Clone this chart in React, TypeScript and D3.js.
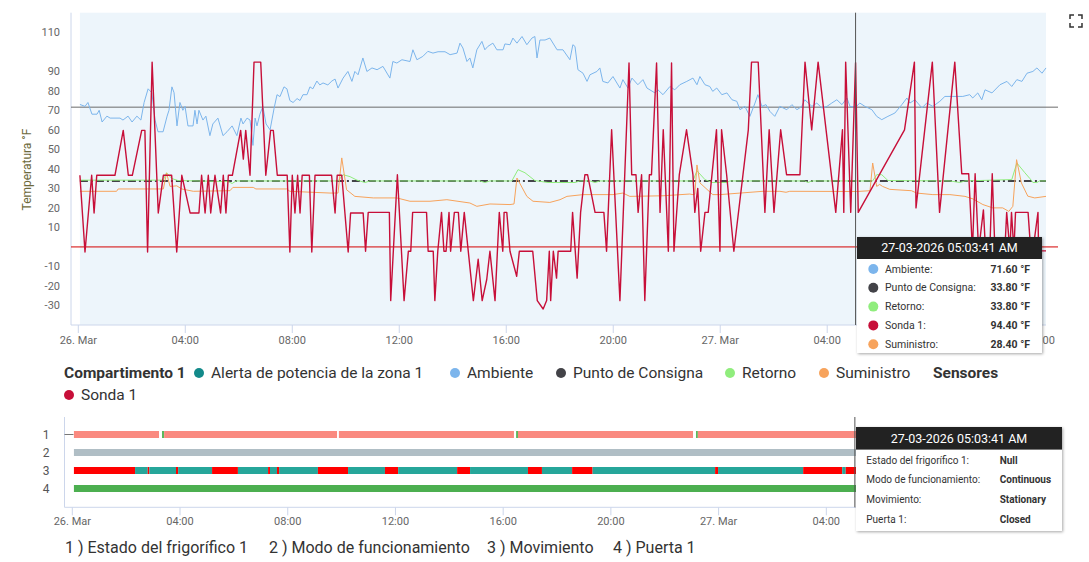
import * as d3 from 'd3';

// hours after 26 Mar 2026 00:00, value in °F
const ambiente: [number, number][] = [
  [0.06,73],[0.25,72],[0.36,74],[0.51,68],[0.70,68],[0.78,70],[0.89,64],[1.07,67],[1.19,66],[1.56,66],[1.67,65],[1.86,67],[2.01,64],[2.19,67],[2.34,65],[2.46,74],[2.61,81],[2.75,79],[2.87,65],[2.98,59],[3.17,59],[3.32,67],[3.39,70],[3.50,82],[3.58,79],[3.69,62],[3.80,74],[3.91,70],[3.99,72],[4.10,62],[4.29,62],[4.36,70],[4.44,63],[4.51,70],[4.66,65],[4.77,67],[4.92,57],[5.03,63],[5.22,66],[5.41,57],[5.56,59],[5.75,62],[5.93,57],[6.08,66],[6.16,63],[6.31,66],[6.42,65],[6.53,52],[6.61,66],[6.68,62],[6.79,68],[6.90,72],[7.02,63],[7.17,60],[7.32,71],[7.43,78],[7.54,77],[7.69,82],[7.80,81],[7.91,75],[8.03,74],[8.18,76],[8.29,75],[8.40,78],[8.55,78],[8.66,82],[8.77,81],[8.92,85],[9.03,83],[9.15,84],[9.33,83],[9.48,85],[9.60,86],[9.71,81.4],[9.90,86.5],[10.08,89.9],[10.23,84.8],[10.34,89.9],[10.46,88.2],[10.64,96.8],[10.79,89.9],[10.98,91.7],[11.17,90.8],[11.39,92.5],[11.65,86.5],[11.76,95],[11.91,94.2],[12.10,95.9],[12.40,95],[12.51,101],[12.66,95.9],[12.88,97.6],[13.07,100.2],[13.26,99.3],[13.45,100],[13.71,100],[13.90,98.5],[14.16,99.3],[14.27,104.4],[14.38,101.9],[14.53,95],[14.64,96.8],[14.75,91.7],[14.90,101],[15.09,105.3],[15.20,101],[15.31,102.7],[15.50,104.4],[15.65,101],[15.88,101],[15.95,104],[16.14,103.6],[16.25,107],[16.40,104.4],[16.59,107.8],[16.77,103.6],[16.96,107],[17.07,107.8],[17.15,96.8],[17.26,106],[17.45,106],[17.63,107],[17.90,101],[18.12,101],[18.38,95.9],[18.49,103.6],[18.57,102.7],[18.68,90.8],[18.87,89],[19.02,84.8],[19.13,88.2],[19.39,89.9],[19.50,91.7],[19.61,84.8],[19.80,84],[19.99,87.3],[20.25,81.4],[20.36,85.7],[20.55,81.4],[20.70,86.5],[20.92,83.1],[21.11,85.7],[21.26,81.4],[21.56,78.9],[21.67,80.5],[21.86,78],[22.12,82.2],[22.30,80.5],[22.49,83.1],[22.75,84.8],[22.98,86.5],[23.13,83.1],[23.24,87.3],[23.43,83.1],[23.61,82.2],[23.72,79.7],[23.87,81.4],[24.06,78],[24.25,78.9],[24.44,75.4],[24.62,74.6],[24.74,70.3],[24.92,72],[25.11,66.9],[25.30,73.7],[25.41,78],[25.56,72],[25.71,72.9],[25.86,69.4],[26.04,66.9],[26.23,72],[26.49,70.3],[26.68,72.9],[26.87,70.3],[27.05,72],[27.16,75.4],[27.43,72],[27.61,73.7],[27.80,71.2],[27.99,72],[28.17,73.7],[28.36,75.4],[28.55,72.9],[28.74,76.3],[28.85,72],[29.06,71.6],[29.22,73.7],[29.41,72],[29.67,70.3],[29.85,66.9],[30.04,65.2],[30.27,66.9],[30.53,68.6],[30.79,72.9],[30.98,76.3],[31.09,73.7],[31.28,75.4],[31.54,71.2],[31.72,73.7],[31.95,72],[32.21,74.6],[32.40,77.1],[32.70,77.1],[33.07,77.1],[33.33,78],[33.44,76.3],[33.63,78.9],[33.78,75.4],[33.90,80.5],[34.16,78.9],[34.46,83.1],[34.72,84.8],[34.90,82.2],[35.09,85.7],[35.28,84.8],[35.47,89],[35.69,89.9],[35.84,91.7],[36.03,89],[36.18,91.7],
];

const puntoConsigna: [number, number][] = [[0.06, 33.8], [36.18, 33.8]];

const retorno: [number, number][] = [
  [0.06,34.2],[3.17,34.2],[3.30,38],[3.50,35],[3.73,34],[5.60,33.5],[5.75,32.5],[5.90,33.8],[9.71,33.8],[9.90,37],[10.16,36],[10.42,34.2],[10.72,33],[10.90,33.8],[15.02,33.8],[15.20,33],[15.39,33.8],[16.21,33.8],[16.44,39.6],[16.70,38],[17.07,34],[17.56,33],[18.57,33],[18.75,33.8],[19.13,33.8],[19.32,33],[19.50,33.8],[22.98,33.8],[23.13,39],[23.43,34.5],[23.69,33],[24.25,33],[24.36,33.8],[27.16,33.8],[27.28,33],[27.43,33.8],[29.70,33.8],[29.85,37],[30.04,37],[30.27,34],[32.59,33.8],[32.96,33],[33.15,33.8],[34.90,34.5],[35.09,43],[35.39,38],[35.58,35],[35.69,33],[35.84,33],[35.94,33.8],[36.18,33.8],
];

const suministro: [number, number][] = [
  [0.06,28.5],[1.43,28.5],[1.49,29.7],[3.18,29.7],[3.30,37.9],[3.43,31],[3.68,31.3],[3.87,29.7],[4.30,28.5],[5.67,28.8],[5.78,30.5],[6.54,30.5],[6.64,29.7],[7.79,29.7],[7.91,28.5],[9.41,27.6],[9.71,27.6],[9.85,45.6],[10.03,29.3],[10.34,25.9],[11.03,25.1],[11.91,25.1],[12.40,23.4],[13.15,23.4],[13.78,24.2],[14.64,22.5],[14.90,20.8],[15.39,22],[16.14,21.7],[16.29,22],[16.40,35.3],[16.77,25.9],[17.00,23.4],[17.63,22.8],[18.01,24.2],[18.27,25.9],[18.87,26.8],[19.99,26.8],[20.36,27.6],[20.62,25.9],[21.86,26.2],[22.86,27.1],[22.98,26.8],[23.05,27],[23.13,42],[23.24,32.8],[23.72,26.8],[23.99,26.8],[25.60,28.5],[26.23,28.5],[26.46,28],[26.60,28.5],[29.11,28.4],[29.60,28.8],[29.70,43],[29.85,31],[29.96,32],[30.07,31],[30.34,29.5],[31.15,28.8],[31.34,27.6],[31.95,26.8],[32.59,26.8],[33.15,25.9],[33.45,24.6],[33.82,21.7],[34.19,20],[34.56,20],[34.79,18.2],[34.94,20.8],[35.08,44.7],[35.26,32.8],[35.50,26],[35.76,25.1],[36.18,25.9],
];

const sonda1: [number, number][] = [
  [0.06,36.7],[0.25,-2.6],[0.50,36.7],[0.59,17.4],[0.69,36.7],[1.37,36.7],[1.68,59.7],[1.87,36.7],[2.02,36.7],[2.37,59.7],[2.49,59.7],[2.59,-2.6],[2.76,94.7],[2.99,17.4],[3.18,36.7],[3.49,36.7],[3.68,-2.6],[3.87,36.7],[4.18,17.4],[4.51,17.4],[4.61,36.7],[4.74,17.4],[4.86,36.7],[4.95,17.4],[5.11,36.7],[5.32,17.4],[5.42,36.7],[5.52,17.4],[5.61,36.7],[5.76,36.7],[6.07,59.7],[6.17,45],[6.26,59.7],[6.42,36.7],[6.57,94.7],[6.82,94.7],[7.01,36.7],[7.19,59.7],[7.29,59.7],[7.44,36.7],[7.81,36.7],[7.91,-2.6],[8.00,36.7],[8.10,17.4],[8.20,36.7],[8.29,17.4],[8.37,36.7],[8.64,36.7],[8.73,-2.6],[8.85,36.7],[9.47,36.7],[9.60,17.4],[9.68,36.7],[9.85,36.7],[10.09,-2.6],[10.18,17.4],[10.65,17.4],[10.74,-2.2],[10.84,17.7],[11.63,17.7],[11.68,-27.5],[11.93,37],[12.18,-27.5],[12.34,-2.2],[12.43,-2.2],[12.50,17.7],[13.02,17.7],[13.08,-2.2],[13.27,-2.2],[13.33,-27.5],[13.44,-2.2],[13.58,17.7],[13.67,-2.2],[13.75,-2.2],[13.86,17.7],[13.92,-2.2],[14.06,17.7],[14.21,17.7],[14.30,-2.2],[14.43,17.7],[14.77,-27.5],[14.95,-6.3],[15.10,-27.5],[15.27,-16.7],[15.39,-2.2],[15.58,-27.5],[15.74,17.7],[15.87,-2.2],[15.92,17.7],[16.02,17.7],[16.14,-2.2],[16.39,-15],[16.49,-2.2],[16.99,-2.2],[17.16,-27.5],[17.38,-31.8],[17.51,-27.5],[17.61,-2.2],[17.66,-27.5],[17.76,-2.2],[17.88,-16],[17.94,-2.2],[18.41,-2.2],[18.48,17.7],[18.65,-16],[18.78,17.7],[18.94,37],[19.04,37],[19.32,17.7],[19.65,17.7],[19.75,-2.2],[19.94,60],[20.25,-27.5],[20.59,94.2],[20.69,37],[20.85,37],[20.93,17.7],[21.06,37],[21.18,-27.5],[21.35,37],[21.43,37],[21.62,94.2],[21.75,17.7],[21.87,60],[22.06,-2.2],[22.18,94.2],[22.27,-2.2],[22.47,37],[22.74,60],[22.98,37],[23.05,17.7],[23.16,30],[23.27,-2.2],[23.43,17.7],[23.55,17.7],[23.86,60],[23.99,-2.2],[24.05,60],[24.24,37],[24.51,-2.2],[25.05,60],[25.17,94.7],[25.42,94.7],[25.67,17.7],[25.83,60],[26.01,17.7],[26.26,60],[26.48,37],[26.98,37],[27.17,94.7],[27.42,60],[27.66,94.7],[28.32,17.7],[28.57,60],[28.62,17.7],[28.69,94.7],[28.88,17.7],[29.06,94.4],[29.16,17.7],[30.89,60],[31.26,94.7],[31.32,20],[31.93,94.7],[32.20,17.7],[32.77,94.7],[33.03,37.5],[33.29,37.5],[33.43,-2],[33.53,37.5],[33.66,-2],[33.84,19],[33.92,-2],[34.08,-2],[34.17,37.5],[34.27,-2],[34.64,-2],[34.71,17.7],[34.83,-2],[34.89,17.7],[34.98,-2],[35.04,17.7],[35.51,17.7],[35.61,-2],[35.69,-2],[35.88,17.7],[35.93,-25],[36.00,-2],[36.18,-2],
];

const seriesNames = ['Ambiente', 'Punto de Consigna', 'Retorno', 'Suministro', 'Sonda 1'];
const seriesColors = ['#7cb5ec', '#434348', '#90ed7d', '#f7a35c', '#c70f39'];
const seriesData = [ambiente, puntoConsigna, retorno, suministro, sonda1];

const yTickValues = [110, 90, 80, 70, 60, 50, 40, 30, 20, 10, -10, -20, -30];
const lowLimit = 0;
const hoverHour = 29.06;
const hoverTitle = '27-03-2026 05:03:41 AM';
const tooltipOrder = ['Ambiente', 'Punto de Consigna', 'Retorno', 'Sonda 1', 'Suministro'];
const tooltipValues = ['71.60 °F', '33.80 °F', '33.80 °F', '94.40 °F', '28.40 °F'];

// status timeline rows (start hour, end hour, state)
const statusRows = ['1', '2', '3', '4'];
const statusNames = ['Estado del frigorífico 1', 'Modo de funcionamiento', 'Movimiento', 'Puerta 1'];
const statusTooltipValues = ['Null', 'Continuous', 'Stationary', 'Closed'];
const estadoSegments: [number, number, string][] = [
  [0.06, 3.22, 'off'], [3.33, 3.41, 'on'], [3.41, 9.83, 'off'], [9.90, 16.40, 'off'], [16.48, 16.55, 'on'],
  [16.55, 23.05, 'off'], [23.16, 23.23, 'on'], [23.23, 36.18, 'off'],
];
const modoSegments: [number, number, string][] = [[0.06, 36.18, 'continuous']];
const movimientoSegments: [number, number, string][] = [
  [0.06, 2.33, 'moving'], [2.33, 2.80, 'stationary'], [2.80, 2.86, 'moving'], [2.86, 3.85, 'stationary'],
  [3.85, 3.93, 'moving'], [3.93, 5.19, 'stationary'], [5.19, 6.15, 'moving'], [6.15, 7.27, 'stationary'],
  [7.27, 7.34, 'moving'], [7.34, 7.60, 'stationary'], [7.60, 7.68, 'moving'], [7.68, 9.12, 'stationary'],
  [9.12, 10.24, 'moving'], [10.24, 11.61, 'stationary'], [11.61, 12.10, 'moving'], [12.10, 14.29, 'stationary'],
  [14.29, 14.77, 'moving'], [14.77, 16.92, 'stationary'], [16.92, 17.44, 'moving'], [17.44, 18.56, 'stationary'],
  [18.56, 19.32, 'moving'], [19.32, 23.87, 'stationary'], [23.87, 23.98, 'moving'], [23.98, 27.14, 'stationary'],
  [27.14, 28.59, 'moving'], [28.59, 28.72, 'stationary'], [28.72, 36.18, 'moving'],
];
const puertaSegments: [number, number, string][] = [[0.06, 36.18, 'closed']];
const statusSegments = [estadoSegments, modoSegments, movimientoSegments, puertaSegments];
const stateColors: Record<string, string> = {
  off: '#fa8a80', on: '#5cb85c', continuous: '#b0bec5', moving: '#ff0000', stationary: '#26a69a', closed: '#4caf50',
};

const FONT = 'Roboto, sans-serif';
const base = new Date(2026, 2, 26, 0, 0, 0).getTime();
const toDate = (h: number) => new Date(base + h * 3600 * 1000);
const fmtTick = (d: Date) => (d.getHours() === 0 ? d3.timeFormat('%-d. %b')(d) : d3.timeFormat('%H:%M')(d));

const topLegend = [
  { label: 'Compartimento 1', bold: true, x: 64, y: 373 },
  { label: 'Alerta de potencia de la zona 1', color: '#138a8a', x: 199, y: 373 },
  { label: 'Ambiente', color: '#7cb5ec', x: 455, y: 373 },
  { label: 'Punto de Consigna', color: '#434348', x: 561, y: 373 },
  { label: 'Retorno', color: '#90ed7d', x: 730, y: 373 },
  { label: 'Suministro', color: '#f7a35c', x: 824, y: 373 },
  { label: 'Sensores', bold: true, x: 933, y: 373 },
  { label: 'Sonda 1', color: '#c70f39', x: 69, y: 395 },
];
const bottomLegendX = [65, 269, 487, 613];

// tooltip boxes: [x, y, w, h]
const topTip = [857, 237, 185, 116];
const botTip = [856, 427, 206, 104];
const hiddenBy = (cx: number, cy: number, box: number[]) =>
  cx - 15 > box[0] && cx + 15 < box[0] + box[2] && cy > box[1] && cy < box[1] + box[3];

export default function App() {
  const top = { left: 71, right: 1046, top: 12.7, bottom: 325 };
  const x = d3.scaleTime().domain([toDate(-0.273), toDate(36.18)]).range([top.left, top.right]);
  const y = d3.scaleLinear().domain([-40, 120]).range([top.bottom, top.top]);
  const line = d3.line<[number, number]>().x(d => x(toDate(d[0]))).y(d => y(d[1]));
  const xTicks = x.ticks(d3.timeHour.every(4)!);

  const bot = { left: 64.5, right: 1046.6, top: 417, bottom: 507.3 };
  const xb = d3.scaleTime().domain([toDate(-0.29), toDate(36.18)]).range([bot.left, bot.right]);
  const yb = d3.scalePoint<string>().domain(statusRows).range([434.5, 488.5]);
  const xbTicks = xb.ticks(d3.timeHour.every(4)!);

  const hx = x(toDate(hoverHour));
  const hxb = xb(toDate(hoverHour));
  const firstT = toDate(ambiente[0][0]);

  return (
    <div style={{ position: 'absolute', left: 0, top: 0 }}>
      <svg width={1089} height={562} style={{ display: 'block', fontFamily: FONT }}>
        <defs>
          <filter id="tipShadow" x="-10%" y="-10%" width="130%" height="130%">
            <feDropShadow dx="1" dy="1" stdDeviation="1.5" floodColor="#000" floodOpacity="0.35" />
          </filter>
        </defs>
        <rect width={1089} height={562} fill="#fff" />

        {/* top chart */}
        <rect x={x(firstT)} y={top.top} width={top.right - x(firstT)} height={top.bottom - top.top} fill="#edf5fb" />
        <line x1={top.left} x2={top.left} y1={top.top} y2={top.bottom} stroke="#ccd6eb" />
        <line x1={top.left} x2={top.right} y1={top.bottom} y2={top.bottom} stroke="#ccd6eb" />
        {yTickValues.map(v => (
          <text key={v} x={60} y={y(v)} dy="0.35em" textAnchor="end" fontSize={11} fill="#666">{v}</text>
        ))}
        {xTicks.map(t => (
          <g key={+t}>
            <line x1={x(t)} x2={x(t)} y1={top.bottom} y2={top.bottom + 8} stroke="#ccd6eb" />
            {!hiddenBy(x(t), 340, topTip) && (
              <text x={x(t)} y={340} dy="0.35em" textAnchor="middle" fontSize={11} fill="#666">{fmtTick(t)}</text>
            )}
          </g>
        ))}
        <text transform={`translate(31,169.5) rotate(-90)`} textAnchor="middle" fontSize={12} fill="#6e6a3c">Temperatura °F</text>

        <line x1={top.left} x2={1058} y1={y(lowLimit)} y2={y(lowLimit)} stroke="#d40000" strokeWidth={1} />
        <line x1={top.left} x2={1058} y1={y(71.6)} y2={y(71.6)} stroke="#6b6b6b" strokeWidth={1} />

        {seriesData.map((data, i) => {
          const name = seriesNames[i];
          return (
            <path
              key={name}
              d={line(data) || ''}
              fill="none"
              stroke={seriesColors[i]}
              strokeWidth={name === 'Sonda 1' ? 1.4 : name === 'Punto de Consigna' ? 2 : 1}
              strokeDasharray={name === 'Punto de Consigna' ? '8,3,2,3' : undefined}
              strokeLinejoin="round"
            />
          );
        })}
        <line x1={hx} x2={hx} y1={top.top} y2={top.bottom} stroke="#555" strokeWidth={1} />

        {/* top legend */}
        {topLegend.map(item => (
          <g key={item.label}>
            {item.color && <circle cx={item.x} cy={item.y} r={5} fill={item.color} />}
            <text x={item.color ? item.x + 12 : item.x} y={item.y} dy="0.35em" fontSize={15.5}
              fontWeight={item.bold ? 700 : 400} fill="#333">{item.label}</text>
          </g>
        ))}

        {/* status chart */}
        <line x1={bot.left} x2={bot.left} y1={bot.top} y2={bot.bottom} stroke="#ccd6eb" />
        <line x1={bot.left} x2={bot.right} y1={bot.bottom} y2={bot.bottom} stroke="#ccd6eb" />
        <line x1={bot.left} x2={bot.left + 9} y1={yb('1')!} y2={yb('1')!} stroke="#777" />
        {statusRows.map(r => (
          <text key={r} x={46} y={yb(r)!} dy="0.35em" textAnchor="middle" fontSize={12} fill="#555">{r}</text>
        ))}
        {statusSegments.map((segs, i) =>
          segs.map(([s, e, st], j) => (
            <rect key={`${i}-${j}`} x={xb(toDate(s))} y={yb(statusRows[i])! - 3.5}
              width={Math.max(0.5, xb(toDate(e)) - xb(toDate(s)))} height={7} fill={stateColors[st]} />
          ))
        )}
        {xbTicks.map(t => (
          <g key={+t}>
            <line x1={xb(t)} x2={xb(t)} y1={bot.bottom} y2={bot.bottom + 8} stroke="#ccd6eb" />
            {!hiddenBy(xb(t), 521.5, botTip) && (
              <text x={xb(t)} y={521.5} dy="0.35em" textAnchor="middle" fontSize={11} fill="#666">{fmtTick(t)}</text>
            )}
          </g>
        ))}
        <line x1={hxb} x2={hxb} y1={bot.top} y2={bot.bottom} stroke="#555" strokeWidth={1} />
        {statusNames.map((n, i) => (
          <text key={n} x={bottomLegendX[i]} y={547} dy="0.35em" fontSize={16} fill="#333">{`${i + 1} ) ${n}`}</text>
        ))}

        {/* top tooltip */}
        <g filter="url(#tipShadow)">
          <rect x={topTip[0]} y={topTip[1]} width={topTip[2]} height={topTip[3]} fill="#fff" />
        </g>
        <rect x={topTip[0]} y={topTip[1]} width={topTip[2]} height={22} fill="#222" />
        <text x={topTip[0] + topTip[2] / 2} y={248} dy="0.35em" textAnchor="middle" fontSize={12.5} fill="#fff">{hoverTitle}</text>
        {tooltipOrder.map((n, i) => (
          <g key={n}>
            <circle cx={873.3} cy={269 + i * 18.8} r={5} fill={seriesColors[seriesNames.indexOf(n)]} />
            <text x={885} y={269 + i * 18.8} dy="0.35em" fontSize={10.5} fill="#333">{n}:</text>
            <text x={1030} y={269 + i * 18.8} dy="0.35em" textAnchor="end" fontSize={10.5} fontWeight={700} fill="#333">{tooltipValues[i]}</text>
          </g>
        ))}

        {/* status tooltip */}
        <g filter="url(#tipShadow)">
          <rect x={botTip[0]} y={botTip[1]} width={botTip[2]} height={botTip[3]} fill="#fff" />
        </g>
        <rect x={botTip[0]} y={botTip[1]} width={botTip[2]} height={22.6} fill="#222" />
        <text x={botTip[0] + botTip[2] / 2} y={438.3} dy="0.35em" textAnchor="middle" fontSize={12.5} fill="#fff">{hoverTitle}</text>
        {statusNames.map((n, i) => (
          <g key={n}>
            <text x={866.3} y={460 + i * 19.85} dy="0.35em" fontSize={10} fill="#333">{n}:</text>
            <text x={999.7} y={460 + i * 19.85} dy="0.35em" fontSize={10} fontWeight={700} fill="#333">{statusTooltipValues[i]}</text>
          </g>
        ))}

        {/* fullscreen icon */}
        <g stroke="#333" strokeWidth={1.5} fill="none">
          <path d="M1070,19 V15 H1074" />
          <path d="M1078,15 H1082 V19" />
          <path d="M1082,23 V27 H1078" />
          <path d="M1074,27 H1070 V23" />
        </g>
      </svg>
    </div>
  );
}
